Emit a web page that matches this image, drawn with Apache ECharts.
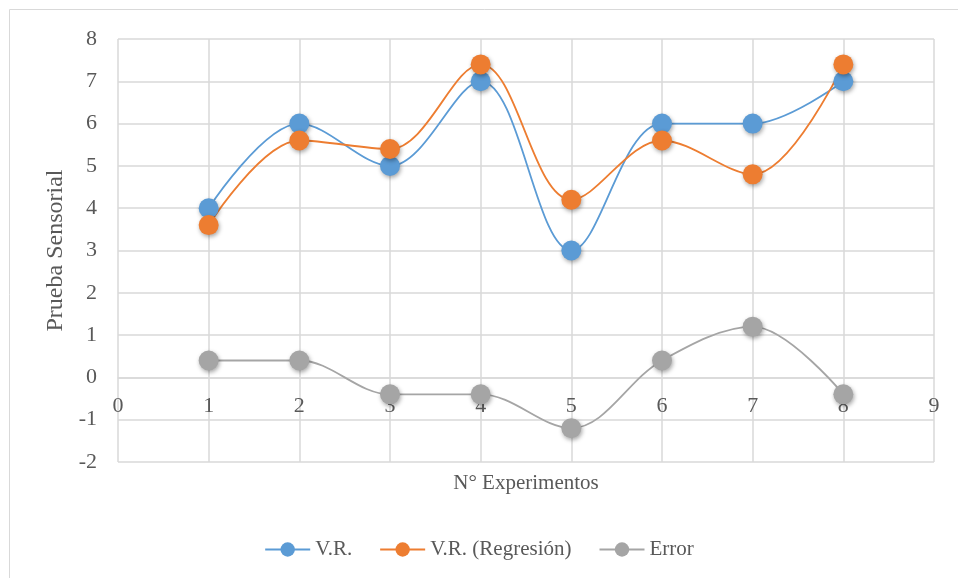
<!DOCTYPE html>
<html><head><meta charset="utf-8">
<script src="https://cdn.jsdelivr.net/npm/echarts@6/dist/echarts.min.js"></script>
<style>html,body{margin:0;padding:0;background:#fff}#c{width:958px;height:578px}</style>
</head><body><div id="c"></div>
<script>
const experiments = [1, 2, 3, 4, 5, 6, 7, 8];
const vrValues = [4, 6, 5, 7, 3, 6, 6, 7];
const regValues = [3.6, 5.6, 5.4, 7.4, 4.2, 5.6, 4.8, 7.4];
const errorValues = [0.4, 0.4, -0.4, -0.4, -1.2, 0.4, 1.2, -0.4];
const seriesNames = ['V.R.', 'V.R. (Regresión)', 'Error'];
const colors = ['#5B9BD5', '#ED7D31', '#A5A5A5'];

const font = 'Liberation Serif';
const txt = '#595959';
const gridC = '#d9d9d9';
const pairs = vals => experiments.map((x, i) => [x, vals[i]]);

const mk = (name, vals, color) => ({
  name, type: 'line', data: pairs(vals), smooth: 0.35,
  symbol: 'circle', symbolSize: 20,
  lineStyle: { color, width: 1.8 },
  itemStyle: { color, shadowBlur: 4, shadowOffsetX: 1, shadowOffsetY: 2, shadowColor: 'rgba(0,0,0,0.35)' },
  emphasis: { disabled: true }
});

const gridTop = 39, gridBottom = 116, H = 578;
const plotH = H - gridTop - gridBottom;
const zeroOffset = plotH * 2 / 10; // y=0 sits 2 units above the -2 bottom

const chart = echarts.init(document.getElementById('c'));
chart.setOption({
  animation: false,
  color: colors,
  graphic: [{ type: 'rect', shape: { x: 9.5, y: 9.5, width: 960, height: 600 }, style: { fill: 'none', stroke: gridC, lineWidth: 1 } }],
  grid: { left: 118, right: 24, top: gridTop, bottom: gridBottom, containLabel: false, outerBoundsMode: 'none' },
  legend: {
    top: 534, left: 'center', itemWidth: 45, itemHeight: 18, itemGap: 27,
    textStyle: { fontFamily: font, fontSize: 21, color: txt },
    data: seriesNames
  },
  xAxis: {
    type: 'value', min: 0, max: 9, interval: 1, position: 'bottom', offset: -zeroOffset,
    name: 'N° Experimentos', nameLocation: 'middle', nameGap: 96,
    nameTextStyle: { fontFamily: font, fontSize: 21, color: txt },
    axisLine: { show: true, onZero: false, lineStyle: { color: gridC, width: 1.5 } },
    axisTick: { show: false },
    axisLabel: { fontFamily: font, fontSize: 22, color: txt, margin: 18 },
    splitLine: { show: true, lineStyle: { color: gridC, width: 1.5 } }
  },
  yAxis: {
    type: 'value', min: -2, max: 8, interval: 1,
    name: 'Prueba Sensorial', nameLocation: 'middle', nameGap: 48,
    nameTextStyle: { fontFamily: font, fontSize: 24, color: txt },
    axisLine: { show: false },
    axisTick: { show: false },
    axisLabel: { fontFamily: font, fontSize: 22, color: txt, margin: 21 },
    splitLine: { show: true, lineStyle: { color: gridC, width: 1.5 } }
  },
  series: [
    mk(seriesNames[0], vrValues, colors[0]),
    mk(seriesNames[1], regValues, colors[1]),
    mk(seriesNames[2], errorValues, colors[2])
  ]
});
</script></body></html>
